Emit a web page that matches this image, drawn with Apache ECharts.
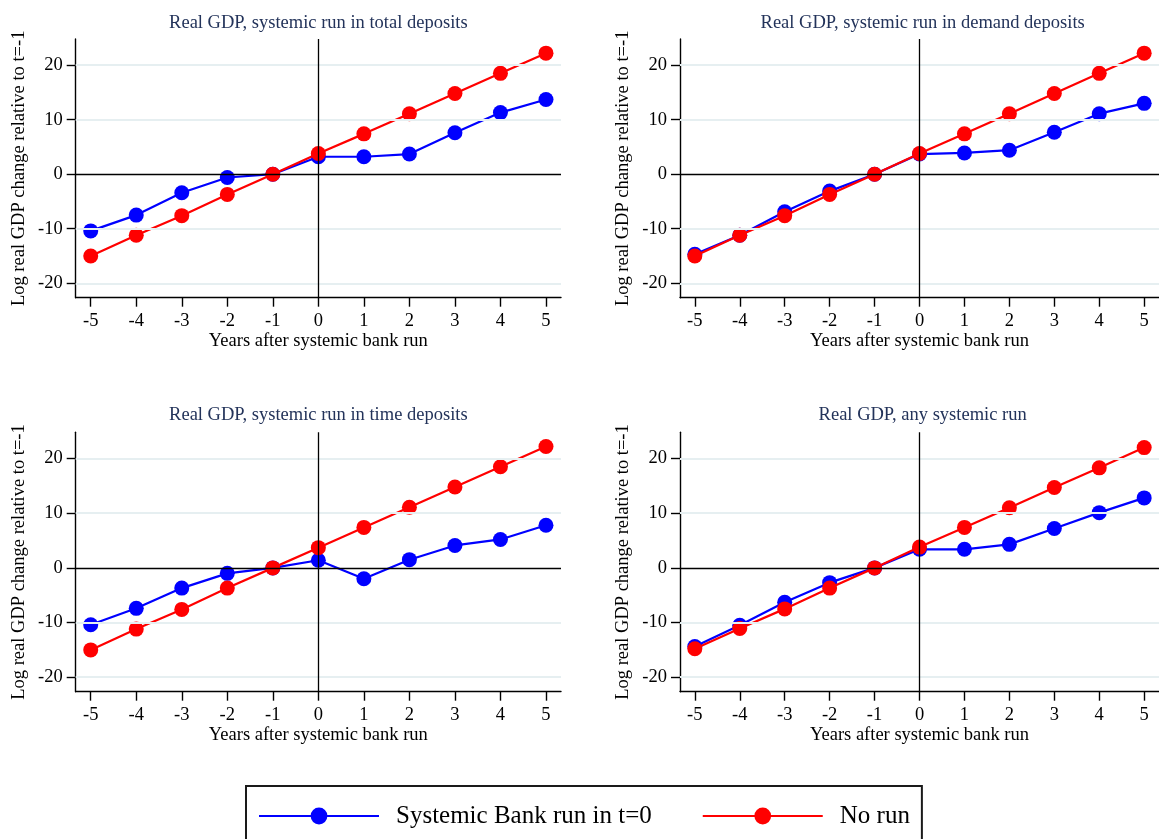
<!DOCTYPE html>
<html>
<head>
<meta charset="utf-8">
<script src="https://cdn.jsdelivr.net/npm/echarts@6/dist/echarts.min.js"></script>
<style>
html,body{margin:0;padding:0;background:#fff;}
#chart{width:1159px;height:839px;}
</style>
</head>
<body>
<div id="chart"></div>
<script>
// ---- data ----
const years = [-5, -4, -3, -2, -1, 0, 1, 2, 3, 4, 5];
const xTicks = [-5, -4, -3, -2, -1, 0, 1, 2, 3, 4, 5];
const yTicks = [-20, -10, 0, 10, 20];

const panelTitles = [
  'Real GDP, systemic run in total deposits',
  'Real GDP, systemic run in demand deposits',
  'Real GDP, systemic run in time deposits',
  'Real GDP, any systemic run'
];

const runTotal   = [-10.4, -7.5, -3.4, -0.6, 0, 3.2, 3.2, 3.7, 7.6, 11.3, 13.7];
const noRunTotal = [-15.0, -11.2, -7.6, -3.7, 0, 3.8, 7.4, 11.1, 14.8, 18.5, 22.2];

const runDemand   = [-14.7, -11.2, -6.9, -3.1, 0, 3.7, 3.9, 4.4, 7.7, 11.1, 13.0];
const noRunDemand = [-15.0, -11.2, -7.6, -3.7, 0, 3.8, 7.4, 11.1, 14.8, 18.5, 22.2];

const runTime   = [-10.4, -7.4, -3.7, -1.0, 0, 1.4, -2.0, 1.5, 4.1, 5.2, 7.8];
const noRunTime = [-15.0, -11.2, -7.6, -3.7, 0, 3.7, 7.4, 11.1, 14.8, 18.5, 22.2];

const runAny   = [-14.4, -10.5, -6.3, -2.7, 0, 3.4, 3.4, 4.3, 7.2, 10.1, 12.8];
const noRunAny = [-14.8, -11.1, -7.5, -3.7, 0, 3.8, 7.4, 11.0, 14.7, 18.3, 22.0];

const runSeries = [runTotal, runDemand, runTime, runAny];
const noRunSeries = [noRunTotal, noRunDemand, noRunTime, noRunAny];

const seriesNames = ['Systemic Bank run in t=0', 'No run'];
const yAxisName = 'Log real GDP change relative to t=-1';
const xAxisName = 'Years after systemic bank run';

// ---- layout ----
const FONT = 'Liberation Serif';
const grids = [
  {left: 75.7, top: 39, width: 485.3, height: 258.7},
  {left: 680, top: 39, width: 485.3, height: 258.7},
  {left: 75.7, top: 432.3, width: 485.3, height: 259.4},
  {left: 680, top: 432.3, width: 485.3, height: 259.4}
];
const titleTops = [13.5, 13.5, 405.5, 405.5];

const option = {
  backgroundColor: '#fff',
  animation: false,
  title: grids.map((g, i) => ({
    text: panelTitles[i],
    left: g.left + g.width / 2,
    top: titleTops[i],
    textAlign: 'center',
    padding: 0,
    textStyle: {fontFamily: FONT, fontSize: 18.5, fontWeight: 'normal', color: '#23335a'}
  })),
  grid: grids.map(g => Object.assign({containLabel: false}, g)),
  xAxis: grids.map((g, i) => ({
    type: 'value', gridIndex: i, min: -5.33, max: 5.33,
    name: xAxisName, nameLocation: 'middle', nameGap: 34,
    nameTextStyle: {fontFamily: FONT, fontSize: 18.5, color: '#000'},
    axisLine: {show: true, onZero: false, lineStyle: {color: '#000', width: 1.4}},
    axisTick: {show: true, length: 9, customValues: xTicks, lineStyle: {color: '#000', width: 1.4}},
    axisLabel: {customValues: xTicks, margin: 14, fontFamily: FONT, fontSize: 18.5, color: '#000'},
    splitLine: {show: false}
  })),
  yAxis: grids.map((g, i) => ({
    type: 'value', gridIndex: i, min: -22.65, max: 24.8,
    name: yAxisName, nameLocation: 'middle', nameGap: 47, nameRotate: 90,
    nameTextStyle: {fontFamily: FONT, fontSize: 18.5, color: '#000'},
    axisLine: {show: true, onZero: false, lineStyle: {color: '#000', width: 1.4}},
    axisTick: {show: true, length: 9, customValues: yTicks, lineStyle: {color: '#000', width: 1.4}},
    axisLabel: {customValues: yTicks, margin: 13, fontFamily: FONT, fontSize: 18.5, color: '#000'},
    splitLine: {show: false}
  })),
  legend: {
    data: seriesNames,
    left: 246, top: 786,
    orient: 'horizontal',
    itemWidth: 120, itemHeight: 21, itemGap: 50,
    padding: [17.5, 12, 40, 12],
    borderColor: '#1a1a1a', borderWidth: 2, borderRadius: 0,
    textStyle: {fontFamily: FONT, fontSize: 25, color: '#000', padding: [0, 0, 0, 12]}
  },
  series: []
};

for (let i = 0; i < 4; i++) {
  // reference lines (grid, zero lines) drawn below data
  option.series.push({
    type: 'line', xAxisIndex: i, yAxisIndex: i, data: [], z: 1, silent: true,
    markLine: {
      silent: true, symbol: 'none', label: {show: false}, animation: false,
      data: [
        {yAxis: yTicks[0], lineStyle: {color: '#e6eff1', width: 2, type: 'solid'}},
        {yAxis: yTicks[1], lineStyle: {color: '#e6eff1', width: 2, type: 'solid'}},
        {yAxis: yTicks[3], lineStyle: {color: '#e6eff1', width: 2, type: 'solid'}},
        {yAxis: yTicks[4], lineStyle: {color: '#e6eff1', width: 2, type: 'solid'}},
        {yAxis: 0, lineStyle: {color: '#000', width: 1.3, type: 'solid'}},
        {xAxis: 0, lineStyle: {color: '#000', width: 1.3, type: 'solid'}}
      ]
    }
  });
  option.series.push({
    name: seriesNames[0], type: 'line', xAxisIndex: i, yAxisIndex: i, z: 3,
    data: years.map((x, k) => [x, runSeries[i][k]]),
    symbol: 'circle', symbolSize: 15,
    lineStyle: {color: '#0000ff', width: 2.2},
    itemStyle: {color: '#0000ff', borderWidth: 0}
  });
  option.series.push({
    name: seriesNames[1], type: 'line', xAxisIndex: i, yAxisIndex: i, z: 4,
    data: years.map((x, k) => [x, noRunSeries[i][k]]),
    symbol: 'circle', symbolSize: 15,
    lineStyle: {color: '#ff0000', width: 2.2},
    itemStyle: {color: '#ff0000', borderWidth: 0}
  });
}

const chart = echarts.init(document.getElementById('chart'), null, {renderer: 'canvas'});
chart.setOption(option);
</script>
</body>
</html>
